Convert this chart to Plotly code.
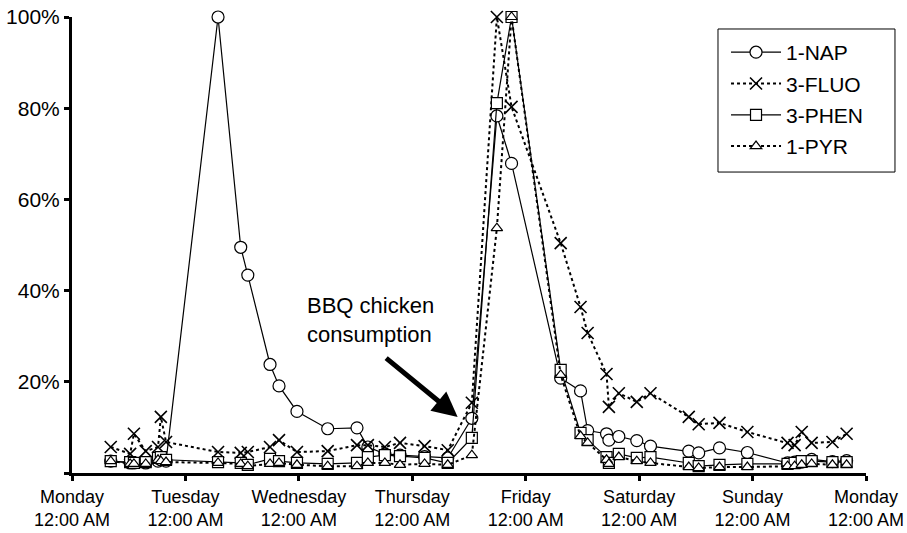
import plotly.graph_objects as go

# Sampling times, hours after Monday 12:00 AM
sample_hours = [8.2, 12.3, 13.1, 15.6, 18.2, 18.8, 19.9, 30.9, 35.7, 37.2,
                41.9, 43.8, 47.6, 54.1, 60.3, 62.6, 66.2, 69.4, 74.6, 79.5,
                84.6, 89.9, 93.0, 103.4, 107.6, 109.1, 113.1, 113.6, 115.7, 119.5,
                122.4, 130.5, 132.6, 137.0, 142.9, 151.4, 152.9, 154.4, 156.5, 160.9,
                163.9]

nap_1 = [2.6, 2.2, 2.2, 2.2, 2.6, 2.9, 2.6, 100, 49.5, 43.4,
         23.8, 19.1, 13.5, 9.7, 9.9, 5.7, 4.2, 3.9, 3.6, 3.3,
         12.0, 78.3, 67.9, 20.8, 18.0, 9.3, 8.6, 7.2, 8.0, 7.1,
         5.9, 4.8, 4.4, 5.5, 4.5, 2.2, 2.4, 2.4, 3.0, 2.5,
         2.7]
fluo_3 = [5.7, 4.2, 8.6, 4.8, 5.7, 12.3, 6.8, 4.6, 4.4, 4.6,
          5.7, 7.2, 4.6, 4.8, 6.1, 6.1, 5.7, 6.6, 5.9, 5.0,
          15.4, 100, 80.3, 50.4, 36.4, 30.7, 21.7, 14.5, 17.5, 15.6,
          17.5, 12.3, 10.7, 11.0, 9.0, 6.6, 6.1, 9.0, 6.6, 6.8,
          8.6]
phen_3 = [2.6, 2.4, 2.2, 2.4, 3.3, 3.5, 2.9, 2.4, 2.2, 1.8,
          3.1, 2.6, 2.2, 2.0, 2.2, 3.5, 3.9, 3.7, 3.3, 2.2,
          7.7, 81.1, 100, 22.6, 8.8, 7.2, 3.5, 2.2, 4.2, 3.3,
          3.5, 2.2, 1.5, 1.8, 2.0, 2.0, 2.2, 2.6, 2.6, 2.4,
          2.4]
pyr_1 = [2.6, 2.0, 2.0, 2.0, 2.9, 2.6, 2.4, 2.2, 2.0, 1.5,
         2.0, 2.2, 1.8, 1.5, 1.5, 2.2, 2.2, 1.8, 2.0, 1.8,
         3.9, 53.7, 100, 21.5, 8.1, 6.6, 2.9, 2.0, 3.5, 2.6,
         2.2, 1.3, 1.1, 1.3, 1.3, 1.5, 1.5, 1.8, 2.0, 1.8,
         1.8]

series_names = ["1-NAP", "3-FLUO", "3-PHEN", "1-PYR"]

x_tick_hours = [0, 24, 48, 72, 96, 120, 144, 168]
x_tick_labels = ["Monday<br>12:00 AM", "Tuesday<br>12:00 AM", "Wednesday<br>12:00 AM",
                 "Thursday<br>12:00 AM", "Friday<br>12:00 AM", "Saturday<br>12:00 AM",
                 "Sunday<br>12:00 AM", "Monday<br>12:00 AM"]
y_tick_vals = [0, 20, 40, 60, 80, 100]
y_tick_labels = ["", "20%", "40%", "60%", "80%", "100%"]

FONT = "Arial, Liberation Sans, sans-serif"

styles = [
    dict(dash="solid", width=1.2, symbol="circle", size=12),
    dict(dash="dot", width=2, symbol="x-thin-open", size=12),
    dict(dash="solid", width=1.2, symbol="square", size=11),
    dict(dash="dot", width=2, symbol="triangle-up", size=10),
]

fig = go.Figure()
for name, vals, st in zip(series_names, [nap_1, fluo_3, phen_3, pyr_1], styles):
    is_x = st["symbol"].startswith("x")
    fig.add_trace(go.Scatter(
        x=sample_hours, y=vals, name=name, mode="lines+markers",
        legendgroup=name,
        line=dict(color="black", width=st["width"], dash=st["dash"]),
        marker=dict(symbol=st["symbol"], size=st["size"],
                    color="black" if is_x else "white",
                    line=dict(color="black", width=1.6 if is_x else 1.2)),
        cliponaxis=False,
    ))

fig.add_annotation(x=49.3, y=33.6, xref="x", yref="y", text="BBQ chicken<br>consumption",
                   showarrow=False, xanchor="left", align="left",
                   font=dict(family=FONT, size=22, color="black"))
fig.add_annotation(x=81.6, y=12.3, xref="x", yref="y", text="",
                   showarrow=True, ax=-73, ay=-60, arrowhead=2, arrowsize=1,
                   arrowwidth=5, arrowcolor="black")

# legend frame
fig.add_shape(type="rect", xref="paper", yref="paper",
              x0=0.8136, x1=1.0365, y0=0.660, y1=0.9737,
              line=dict(color="black", width=1), fillcolor="rgba(0,0,0,0)")

fig.update_layout(
    width=907, height=533,
    margin=dict(l=72, r=41, t=17, b=60),
    paper_bgcolor="white", plot_bgcolor="white",
    font=dict(family=FONT, color="black"),
    showlegend=True,
    legend=dict(x=0.8237, y=0.967, xanchor="left", yanchor="top",
                borderwidth=0, bgcolor="rgba(0,0,0,0)",
                font=dict(family=FONT, size=21, color="black"),
                tracegroupgap=1, itemwidth=50),
    xaxis=dict(range=[0, 168], tickvals=x_tick_hours, ticktext=x_tick_labels,
               showgrid=False, zeroline=False, showline=True, linecolor="black",
               linewidth=3, ticks="outside", ticklen=5, tickwidth=3, tickcolor="black",
               automargin=False,
               tickfont=dict(family=FONT, size=18, color="black")),
    yaxis=dict(range=[0, 100], tickvals=y_tick_vals, ticktext=y_tick_labels,
               showgrid=False, zeroline=False, showline=True, linecolor="black",
               linewidth=3, ticks="outside", ticklen=5, tickwidth=3, tickcolor="black",
               automargin=False,
               tickfont=dict(family=FONT, size=21, color="black")),
)

fig.write_html("out.html")
